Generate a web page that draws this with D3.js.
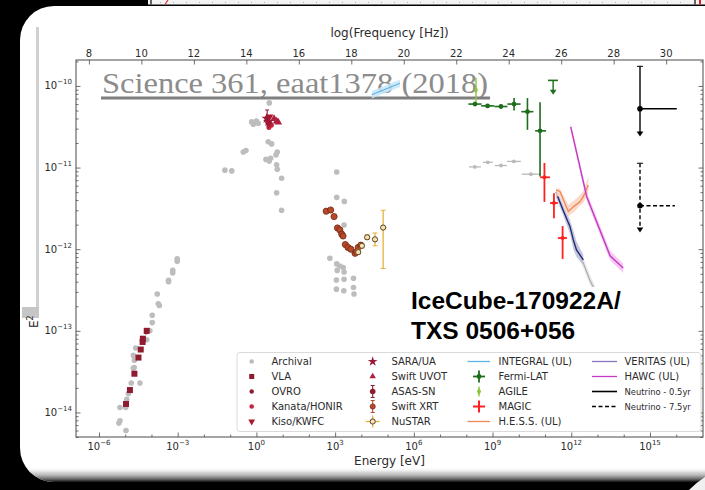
<!DOCTYPE html>
<html>
<head>
<meta charset="utf-8">
<script src="https://cdn.jsdelivr.net/npm/d3@7"></script>
<style>
  html, body { margin: 0; padding: 0; background: #000; }
  svg { display: block; }
</style>
</head>
<body>
<svg id="chart" width="705" height="490"></svg>
<script>
// Energy in eV, energy flux E^2 dN/dE in erg cm^-2 s^-1

const energyDomain = [1.33e-7, 1.05e17];
const fluxDomain = [5.0e-15, 2.08e-10];
const energyMajorExp = [-6, -3, 0, 3, 6, 9, 12, 15];
const fluxMajorExp = [-14, -13, -12, -11, -10];
const freqTicks = [8, 10, 12, 14, 16, 18, 20, 22, 24, 26, 28, 30];

// archival measurements: [E, flux]
const archival = [
  // radio / mm
  [9.55e-4, 7.6e-13], [9.55e-4, 7.1e-13], [6.46e-4, 5.5e-13], [6.46e-4, 5.13e-13],
  [4.47e-4, 4.17e-13], [4.47e-4, 3.98e-13], [1.66e-4, 2.82e-13], [1.82e-4, 2.14e-13],
  [2.0e-4, 2.04e-13], [1.07e-4, 1.55e-13], [1.07e-4, 1.26e-13], [8.7e-5, 1.0e-13],
  [6.6e-5, 7.76e-14], [2.5e-5, 6.17e-14], [2.04e-5, 5.0e-14], [2.24e-5, 4.37e-14],
  [2.19e-5, 3.55e-14], [2.04e-5, 3.47e-14], [3.63e-5, 2.29e-14], [1.7e-5, 2.29e-14],
  [1.32e-5, 1.7e-14], [1.15e-5, 1.45e-14], [1.05e-5, 1.15e-14], [6.3e-6, 1.15e-14],
  [6.3e-6, 7.9e-15], [5.75e-6, 7.4e-15], [1.07e-5, 6.0e-15],
  // infrared / optical / UV
  [3.09, 6.2e-11], [0.66, 3.63e-11], [0.76, 3.39e-11], [0.88, 3.57e-11], [1.0, 3.72e-11],
  [1.17, 3.49e-11], [2.82, 2.07e-11], [3.8, 1.95e-11], [0.316, 1.55e-11], [0.40, 1.62e-11],
  [6.24, 1.55e-11], [5.56, 1.43e-11], [2.31, 1.26e-11], [3.47, 1.30e-11], [3.09, 1.20e-11],
  [5.89, 1.08e-11], [6.24, 9.55e-12], [0.063, 9.3e-12], [0.115, 9.1e-12], [9.12, 7.4e-12],
  [5.89, 4.9e-12], [9.12, 3.0e-12],
  // X-ray
  [1150, 8.83e-12], [1150, 4.31e-12], [2240, 3.85e-12], [2190, 1.98e-12], [631, 7.73e-13],
  [1150, 6.6e-13], [1510, 6.22e-13], [2040, 5.97e-13], [1200, 5.5e-13], [2190, 5.25e-13],
  [1120, 4.2e-13], [2190, 4.28e-13], [5010, 4.4e-13], [1120, 3.24e-13], [2140, 3.09e-13],
  [5010, 3.39e-13], [5250, 2.82e-13]
];
// archival gamma-ray bins: [E, E low, E high, flux]
const archivalGamma = [
  [2.1e8, 1.26e8, 3.6e8, 1.02e-11], [6.6e8, 4.3e8, 1.02e9, 1.16e-11],
  [2.1e9, 1.23e9, 3.5e9, 1.06e-11], [6.5e9, 3.5e9, 1.2e10, 1.19e-11],
  [2.9e10, 1.3e10, 6.5e10, 8.3e-12]
];

const vla = [[6.6e-5, 1.0e-13], [4.7e-5, 8.0e-14], [4.6e-5, 7.3e-14], [3.9e-5, 5.9e-14],
  [3.2e-5, 4.7e-14], [2.24e-5, 2.98e-14], [1.51e-5, 1.88e-14], [1.07e-5, 1.27e-14]];
const ovro = [[6.3e-5, 9.6e-14]];
const kanata = [[3.3, 3.5e-11], [3.7, 3.3e-11], [3.0, 3.1e-11]];
const kiso = [[2.9, 3.4e-11], [3.2, 4.2e-11]];
const sara = [[2.82, 3.66e-11], [2.45, 4.0e-11]];
const uvot = [[5.9, 3.7e-11], [6.8, 3.6e-11], [4.7, 3.96e-11]];
// [E, flux, flux low, flux high]
const asassn = [[2.57, 4.05e-11, 3.16e-11, 5.08e-11]];
const xrt = [[457, 2.92e-12], [676, 3.02e-12], [912, 2.51e-12], [1230, 1.82e-12],
  [1510, 1.72e-12], [1780, 1.53e-12], [2000, 1.45e-12], [2450, 1.14e-12], [3090, 1.05e-12],
  [3980, 1.0e-12], [5750, 8.9e-13], [6610, 9.3e-13], [7590, 1.05e-12], [9550, 1.12e-12]];
// [E, E low, E high, flux, flux low, flux high]
const nustar = [
  [7590, 7000, 8200, 9.2e-13, 8.7e-13, 9.8e-13],
  [1.05e4, 9.5e3, 1.15e4, 1.1e-12, 1.04e-12, 1.17e-12],
  [1.66e4, 1.45e4, 1.9e4, 1.4e-12, 1.32e-12, 1.5e-12],
  [3.31e4, 2.8e4, 3.9e4, 1.32e-12, 1.1e-12, 1.58e-12],
  [6.76e4, 5.5e4, 9.1e4, 1.84e-12, 5.8e-13, 3.0e-12]
];
const fermi = [
  [2.14e8, 1.2e8, 3.8e8, 6.0e-11, 5.7e-11, 6.4e-11],
  [6.46e8, 3.7e8, 1.15e9, 5.7e-11, 5.4e-11, 6.0e-11],
  [2.09e9, 1.17e9, 3.7e9, 5.6e-11, 5.3e-11, 5.9e-11],
  [6.61e9, 3.7e9, 1.17e10, 6.0e-11, 5.0e-11, 7.1e-11],
  [2.14e10, 1.25e10, 3.6e10, 4.84e-11, 2.9e-11, 7.1e-11],
  [6.46e10, 4.2e10, 1.1e11, 2.82e-11, 7.8e-12, 6.3e-11]
];
// upper limit: [E, E low, E high, limit, arrow tip]
const fermiUL = [[2.04e11, 1.3e11, 3.1e11, 1.17e-10, 7.8e-11]];
// [E, flux, flux low, flux high]
const agile = [[2.34e8, 8.9e-11, 6.2e-11, 1.26e-10]];
const magic = [
  [9.5e10, 6.5e10, 1.55e11, 7.6e-12, 3.8e-12, 1.14e-11],
  [2.19e11, 1.55e11, 3.1e11, 3.68e-12, 2.39e-12, 4.84e-12],
  [4.68e11, 3.1e11, 6.9e11, 1.37e-12, 7.6e-13, 1.92e-12]
];
// upper-limit curves with bands: [E, flux, band low, band high]
const integral = [[2.5e4, 7.8e-11, 7.0e-11, 8.7e-11], [2.95e5, 1.08e-10, 9.7e-11, 1.2e-10]];
const hess = [
  [2.63e11, 5.3e-12, 4.5e-12, 5.6e-12], [3.72e11, 5.1e-12, 4.4e-12, 5.5e-12],
  [7.7e11, 2.9e-12, 2.55e-12, 3.5e-12], [1.2e12, 3.3e-12, 2.8e-12, 3.9e-12],
  [2.14e12, 3.8e-12, 3.4e-12, 4.6e-12], [2.88e12, 4.4e-12, 3.7e-12, 5.2e-12],
  [4.47e12, 6.1e-12, 4.8e-12, 7.7e-12]
];
const veritas = [
  [2.63e11, 5.0e-12, 4.3e-12, 5.6e-12], [4.9e11, 3.0e-12, 2.6e-12, 3.5e-12],
  [8.9e11, 1.9e-12, 1.55e-12, 2.3e-12], [1.2e12, 1.3e-12, 1.0e-12, 1.7e-12],
  [1.58e12, 9.8e-13, 8.0e-13, 1.25e-12], [2.88e12, 7.4e-13, 6.4e-13, 8.6e-13]
];
const vheArchival = [
  [1.1e12, 1.35e-12, 1.15e-12, 1.6e-12], [2.8e12, 6.9e-13, 6.0e-13, 8.0e-13],
  [5.1e12, 4.2e-13, 3.7e-13, 4.8e-13], [9.5e12, 2.8e-13, 2.45e-13, 3.2e-13],
  [1.5e13, 2.0e-13, 1.75e-13, 2.3e-13]
];
const hawc = [
  [9.55e11, 3.16e-11, 2.8e-11, 3.5e-11], [3.89e12, 4.4e-12, 3.9e-12, 5.0e-12],
  [3.02e13, 8.3e-13, 7.3e-13, 9.6e-13], [9.55e13, 5.9e-13, 5.1e-13, 6.7e-13]
];
// neutrino: [E, E high, flux, bar top, arrow tip]
const neutrinoHalfYear = [4.17e14, 1.05e16, 5.25e-11, 1.74e-10, 2.4e-11];
const neutrinoSevenYears = [4.17e14, 8.9e15, 3.4e-12, 1.13e-11, 1.6e-12];

const legendLabels = [
  ['Archival', 'VLA', 'OVRO', 'Kanata/HONIR', 'Kiso/KWFC'],
  ['SARA/UA', 'Swift UVOT', 'ASAS-SN', 'Swift XRT', 'NuSTAR'],
  ['INTEGRAL (UL)', 'Fermi-LAT', 'AGILE', 'MAGIC', 'H.E.S.S. (UL)'],
  ['VERITAS (UL)', 'HAWC (UL)', 'Neutrino - 0.5yr', 'Neutrino - 7.5yr']
];

// ---------------------------------------------------------------
const W = 705, H = 490;
const M = { left: 76, right: 703, top: 60, bottom: 437 };
const AX = '#4a4a4a', TXT = '#2b2b2b';
const SANS = 'DejaVu Sans, Verdana, sans-serif';
const LOG_HZ_PER_EV = 14.3836; // log10 of (1 eV / h) in Hz

const C = {
  archival: '#bdbdbd', vla: '#8e1b2f', kanata: '#c4223d', kiso: '#a8182f',
  sara: '#9c1838', uvot: '#b01e40', asassn: '#8e1b2f', xrt: '#b9482a', xrtEdge: '#6e2812',
  nustarFill: '#f4e2b8', nustarEdge: '#5c4020', nustarBar: '#e5b13c',
  integral: '#5db5e6', integralBand: '#c9e6f7', fermi: '#1c6d1c', agile: '#8cc63e',
  magic: '#ff2020', hess: '#f0875a', hessBand: '#fbd3c1', veritas: '#27287a',
  veritasLegend: '#8a72c4', veritasBand: '#bcc1d6', vheGray: '#a9a9a9', vheGrayBand: '#e2e2e2',
  hawc: '#c43ac4', hawcBand: '#f4c0f1', nu: '#000'
};

const svg = d3.select('#chart');
const defs = svg.append('defs');

const x = d3.scaleLog().domain(energyDomain).range([M.left, M.right]);
const y = d3.scaleLog().domain(fluxDomain).range([M.bottom, M.top]);
const xNu = d3.scaleLinear()
  .domain(energyDomain.map(e => Math.log10(e) + LOG_HZ_PER_EV))
  .range([M.left, M.right]);

// ---- backdrop: dark surround, slide edge above, white card ----
svg.append('rect').attr('width', W).attr('height', H).attr('fill', '#000');
svg.append('rect').attr('x', 148).attr('y', 0).attr('width', W - 148).attr('height', 4.5).attr('fill', '#f3f3f3');
svg.append('line').attr('x1', 160).attr('x2', 690).attr('y1', 2.5).attr('y2', 2.5)
  .attr('stroke', '#999').attr('stroke-width', 0.8).attr('stroke-dasharray', '1 12');
svg.append('line').attr('x1', 151).attr('x2', 151).attr('y1', 0).attr('y2', 4.5).attr('stroke', '#333').attr('stroke-width', 1.5);
svg.append('line').attr('x1', 165).attr('x2', 168).attr('y1', 4.5).attr('y2', 0).attr('stroke', '#d33').attr('stroke-width', 1.2);
svg.append('line').attr('x1', 695).attr('x2', 695).attr('y1', 0).attr('y2', 4.5).attr('stroke', '#333').attr('stroke-width', 1.5);
svg.append('line').attr('x1', 700).attr('x2', 700).attr('y1', 0).attr('y2', 4.5).attr('stroke', '#d22').attr('stroke-width', 2);

const cardPath = { x: 20, y: 6, w: W + 40, h: 476, r: 34 };
defs.append('clipPath').attr('id', 'card').append('rect')
  .attr('x', cardPath.x).attr('y', cardPath.y).attr('width', cardPath.w).attr('height', cardPath.h).attr('rx', cardPath.r);
svg.append('rect').attr('x', cardPath.x).attr('y', cardPath.y).attr('width', cardPath.w)
  .attr('height', cardPath.h).attr('rx', cardPath.r).attr('fill', '#fff');
const edge = defs.append('linearGradient').attr('id', 'edge').attr('x1', 0).attr('x2', 0).attr('y1', 0).attr('y2', 1);
[[0, '#ffffff', 0], [0.3, '#e2e2e2', 1], [0.55, '#b5b5b5', 1], [0.8, '#6a6a6a', 1], [1, '#111', 1]]
  .forEach(([o, c, a]) => edge.append('stop').attr('offset', o).attr('stop-color', c).attr('stop-opacity', a));
svg.append('rect').attr('x', 0).attr('y', 467).attr('width', W).attr('height', 15)
  .attr('fill', 'url(#edge)').attr('clip-path', 'url(#card)');
// corner of the next slide peeking in at the lower right
svg.append('path').attr('d', 'M705,477 Q697,482 689,490 L705,490 Z').attr('fill', '#f0f0f0');

// remnant of the vertical axis title
svg.append('rect').attr('x', 36).attr('y', 27).attr('width', 3).attr('height', 280).attr('fill', '#d0d0d0');
svg.append('rect').attr('x', 22).attr('y', 307).attr('width', 17).attr('height', 11).attr('fill', '#c6c6c6');
const eLab = svg.append('text').attr('transform', 'translate(37.5,328) rotate(-90)')
  .attr('font-family', SANS).attr('font-size', 12).attr('fill', '#222');
eLab.append('tspan').text('E');
eLab.append('tspan').attr('dy', -5).attr('font-size', 8).text('2');

// ---- axes ----
function powerLabel(sel, exp) {
  sel.append('tspan').text('10');
  sel.append('tspan').attr('dy', -5).attr('font-size', 7)
    .text(exp < 0 ? '\u2212' + Math.abs(exp) : String(exp));
}
function tickGroup(axisGen, tx, ty) {
  const g = svg.append('g').attr('transform', `translate(${tx},${ty})`).call(axisGen);
  g.select('.domain').remove();
  g.selectAll('.tick line').attr('stroke', AX).attr('stroke-width', 0.8);
  g.selectAll('.tick text').remove();
  return g;
}

const energyMajor = energyMajorExp.map(k => Math.pow(10, k));
const energyMinor = d3.range(-6, 17).filter(k => !energyMajorExp.includes(k)).map(k => Math.pow(10, k));
const fluxMajor = fluxMajorExp.map(k => Math.pow(10, k));
const fluxMinor = [];
for (let n = -15; n <= -10; n++) for (let k = 2; k <= 9; k++) {
  const v = k * Math.pow(10, n);
  if (v > fluxDomain[0] && v < fluxDomain[1]) fluxMinor.push(v);
}

tickGroup(d3.axisBottom(x).tickValues(energyMajor).tickSize(-4.5), 0, M.bottom);
tickGroup(d3.axisBottom(x).tickValues(energyMinor).tickSize(-2.5), 0, M.bottom);
tickGroup(d3.axisTop(xNu).tickValues(freqTicks).tickSize(-4.5), 0, M.top);
tickGroup(d3.axisLeft(y).tickValues(fluxMajor).tickSize(-4.5), M.left, 0);
tickGroup(d3.axisLeft(y).tickValues(fluxMinor).tickSize(-2.5), M.left, 0);
tickGroup(d3.axisRight(y).tickValues(fluxMajor).tickSize(-4.5), M.right, 0);
tickGroup(d3.axisRight(y).tickValues(fluxMinor).tickSize(-2.5), M.right, 0);

svg.append('rect').attr('x', M.left).attr('y', M.top).attr('width', M.right - M.left)
  .attr('height', M.bottom - M.top).attr('fill', 'none').attr('stroke', AX).attr('stroke-width', 1);

const labels = svg.append('g').attr('font-family', SANS).attr('font-size', 10).attr('fill', TXT);
energyMajorExp.forEach(k => {
  labels.append('text').attr('x', x(Math.pow(10, k))).attr('y', 449.5).attr('text-anchor', 'middle').call(powerLabel, k);
});
fluxMajorExp.forEach(k => {
  labels.append('text').attr('x', 72).attr('y', y(Math.pow(10, k)) + 3.5).attr('text-anchor', 'end').call(powerLabel, k);
});
freqTicks.forEach(v => {
  labels.append('text').attr('x', xNu(v)).attr('y', 56.5).attr('text-anchor', 'middle').text(v);
});
svg.append('text').attr('x', (M.left + M.right) / 2).attr('y', 465).attr('text-anchor', 'middle')
  .attr('font-family', SANS).attr('font-size', 12).attr('fill', TXT).text('Energy [eV]');
svg.append('text').attr('x', (M.left + M.right) / 2).attr('y', 37).attr('text-anchor', 'middle')
  .attr('font-family', SANS).attr('font-size', 12).attr('fill', TXT).text('log(Frequency [Hz])');

// ---- reference caption ----
svg.append('text').attr('x', 102).attr('y', 93).attr('font-family', 'Liberation Serif, DejaVu Serif, serif')
  .attr('font-size', 30).attr('fill', '#8c8c8c').attr('textLength', 386).attr('lengthAdjust', 'spacingAndGlyphs')
  .text('Science 361, eaat1378 (2018)');
svg.append('rect').attr('x', 101).attr('y', 96.5).attr('width', 389).attr('height', 3).attr('fill', '#7e7e7e');

// ---- data ----
defs.append('clipPath').attr('id', 'plot').append('rect')
  .attr('x', M.left).attr('y', M.top).attr('width', M.right - M.left).attr('height', M.bottom - M.top);
const plot = svg.append('g').attr('clip-path', 'url(#plot)');

const seg = (g, x1, y1, x2, y2, color, w, dash) => g.append('line')
  .attr('x1', x1).attr('y1', y1).attr('x2', x2).attr('y2', y2)
  .attr('stroke', color).attr('stroke-width', w).attr('stroke-dasharray', dash || null);
const dot = (g, cx, cy, r, fill, stroke, sw) => g.append('circle').attr('cx', cx).attr('cy', cy).attr('r', r)
  .attr('fill', fill).attr('stroke', stroke || 'none').attr('stroke-width', sw || 0);
const sym = (g, type, size, cx, cy, fill, rot) => g.append('path')
  .attr('d', d3.symbol().type(type).size(size)())
  .attr('transform', `translate(${cx},${cy}) rotate(${rot || 0})`).attr('fill', fill);
const arrowDown = (g, cx, tipY, color) => g.append('path')
  .attr('d', `M${cx - 3.3},${tipY - 5} L${cx + 3.3},${tipY - 5} L${cx},${tipY} Z`).attr('fill', color);

function bandCurve(g, rows, line, band, lw) {
  g.append('path').datum(rows).attr('fill', band).attr('opacity', 0.85)
    .attr('d', d3.area().x(d => x(d[0])).y0(d => y(d[2])).y1(d => y(d[3])));
  g.append('path').datum(rows).attr('fill', 'none').attr('stroke', line).attr('stroke-width', lw || 1.3)
    .attr('d', d3.line().x(d => x(d[0])).y(d => y(d[1])));
}

// archival
archivalGamma.forEach(d => {
  seg(plot, x(d[1]), y(d[3]), x(d[2]), y(d[3]), '#b9b9b9', 1.3);
  dot(plot, x(d[0]), y(d[3]), 1.9, '#b9b9b9');
});
archival.forEach(d => dot(plot, x(d[0]), y(d[1]), 2.8, C.archival));

// radio
vla.forEach(d => plot.append('rect').attr('x', x(d[0]) - 3).attr('y', y(d[1]) - 3)
  .attr('width', 6).attr('height', 6).attr('fill', C.vla));
ovro.forEach(d => dot(plot, x(d[0]), y(d[1]), 2.2, C.vla));

// optical / UV
asassn.forEach(d => {
  seg(plot, x(d[0]), y(d[2]), x(d[0]), y(d[3]), C.asassn, 1.1);
  seg(plot, x(d[0]) - 2, y(d[3]), x(d[0]) + 2, y(d[3]), C.asassn, 1);
  dot(plot, x(d[0]), y(d[1]), 2.6, C.asassn);
});
kanata.forEach(d => dot(plot, x(d[0]), y(d[1]), 2.5, C.kanata));
kiso.forEach(d => sym(plot, d3.symbolTriangle, 24, x(d[0]), y(d[1]), C.kiso, 180));
uvot.forEach(d => sym(plot, d3.symbolTriangle, 26, x(d[0]), y(d[1]), C.uvot));
sara.forEach(d => sym(plot, d3.symbolStar, 34, x(d[0]), y(d[1]), C.sara));

// INTEGRAL upper limit
bandCurve(plot, integral, C.integral, C.integralBand, 1.3);

// X-ray
xrt.forEach(d => dot(plot, x(d[0]), y(d[1]), 3.1, C.xrt, C.xrtEdge, 0.8));
nustar.forEach(d => {
  seg(plot, x(d[1]), y(d[3]), x(d[2]), y(d[3]), C.nustarBar, 1.3);
  seg(plot, x(d[0]), y(d[4]), x(d[0]), y(d[5]), C.nustarBar, 1.3);
  seg(plot, x(d[0]) - 2.5, y(d[4]), x(d[0]) + 2.5, y(d[4]), C.nustarBar, 1);
  seg(plot, x(d[0]) - 2.5, y(d[5]), x(d[0]) + 2.5, y(d[5]), C.nustarBar, 1);
  dot(plot, x(d[0]), y(d[3]), 2.6, C.nustarFill, C.nustarEdge, 1);
});

// very-high-energy upper limits
bandCurve(plot, vheArchival, C.vheGray, C.vheGrayBand, 1.1);
bandCurve(plot, veritas, C.veritas, C.veritasBand, 1.4);
bandCurve(plot, hess, C.hess, C.hessBand, 1.3);
bandCurve(plot, hawc, C.hawc, C.hawcBand, 1.4);

// AGILE
agile.forEach(d => {
  seg(plot, x(d[0]), y(d[2]), x(d[0]), y(d[3]), C.agile, 1.4);
  sym(plot, d3.symbolDiamond, 14, x(d[0]), y(d[1]), C.agile);
});

// Fermi-LAT
fermi.forEach(d => {
  seg(plot, x(d[1]), y(d[3]), x(d[2]), y(d[3]), C.fermi, 1.6);
  seg(plot, x(d[0]), y(d[4]), x(d[0]), y(d[5]), C.fermi, 1.6);
  dot(plot, x(d[0]), y(d[3]), 2.4, C.fermi);
});
fermiUL.forEach(d => {
  seg(plot, x(d[1]), y(d[3]), x(d[2]), y(d[3]), C.fermi, 1.6);
  seg(plot, x(d[0]), y(d[3]), x(d[0]), y(d[4]) - 3, C.fermi, 1.4);
  arrowDown(plot, x(d[0]), y(d[4]), C.fermi);
});

// MAGIC
magic.forEach(d => {
  seg(plot, x(d[1]), y(d[3]), x(d[2]), y(d[3]), C.magic, 1.8);
  seg(plot, x(d[0]), y(d[4]), x(d[0]), y(d[5]), C.magic, 1.8);
  dot(plot, x(d[0]), y(d[3]), 2, C.magic);
});

// IceCube neutrino flux limits
function neutrino(d, dash) {
  seg(plot, x(d[0]), y(d[2]), x(d[1]), y(d[2]), C.nu, 1.4, dash);
  seg(plot, x(d[0]), y(d[3]), x(d[0]), y(d[4]) - 3, C.nu, 1.4, dash);
  seg(plot, x(d[0]) - 3, y(d[3]), x(d[0]) + 3, y(d[3]), C.nu, 1);
  arrowDown(plot, x(d[0]), y(d[4]), C.nu);
  dot(plot, x(d[0]), y(d[2]), 2.8, C.nu);
}
neutrino(neutrinoHalfYear, null);
neutrino(neutrinoSevenYears, '4 2.5');

// ---- source label ----
svg.append('rect').attr('x', 406).attr('y', 287).attr('width', 222).attr('height', 59).attr('fill', '#fff');
const BOLD = 'Liberation Sans, Arial, Helvetica, sans-serif';
svg.append('text').attr('x', 411).attr('y', 309).attr('font-family', BOLD).attr('font-weight', 'bold')
  .attr('font-size', 24.5).attr('fill', '#000').text('IceCube-170922A/');
svg.append('text').attr('x', 411).attr('y', 339).attr('font-family', BOLD).attr('font-weight', 'bold')
  .attr('font-size', 24.5).attr('fill', '#000').text('TXS 0506+056');

// ---- legend ----
const lg = svg.append('g');
lg.append('rect').attr('x', 237).attr('y', 352.5).attr('width', 464).attr('height', 79).attr('rx', 3)
  .attr('fill', '#fff').attr('fill-opacity', 0.9).attr('stroke', '#d0d0d0').attr('stroke-width', 0.8);
const colX = [251.7, 372.7, 479, 604.5];
const lineSpan = [[467.5, 490], [592, 617]];
const labelX = [271.5, 391.5, 498.5, 624.5];
const rowY = i => 361.5 + 15 * i;

const legendMarker = {
  'Archival': (cx, cy) => dot(lg, cx, cy, 2.3, C.archival),
  'VLA': (cx, cy) => lg.append('rect').attr('x', cx - 2.5).attr('y', cy - 2.5).attr('width', 5).attr('height', 5).attr('fill', C.vla),
  'OVRO': (cx, cy) => dot(lg, cx, cy, 2.2, C.vla),
  'Kanata/HONIR': (cx, cy) => dot(lg, cx, cy, 2.3, C.kanata),
  'Kiso/KWFC': (cx, cy) => sym(lg, d3.symbolTriangle, 20, cx, cy, C.kiso, 180),
  'SARA/UA': (cx, cy) => sym(lg, d3.symbolStar, 30, cx, cy, C.sara),
  'Swift UVOT': (cx, cy) => sym(lg, d3.symbolTriangle, 18, cx, cy, C.uvot),
  'ASAS-SN': (cx, cy) => {
    seg(lg, cx, cy - 6, cx, cy + 6, C.asassn, 1.1);
    seg(lg, cx - 2, cy - 6, cx + 2, cy - 6, C.asassn, 1);
    seg(lg, cx - 2, cy + 6, cx + 2, cy + 6, C.asassn, 1);
    dot(lg, cx, cy, 2.8, C.asassn);
  },
  'Swift XRT': (cx, cy) => {
    seg(lg, cx, cy - 6, cx, cy + 6, C.xrt, 1.1);
    seg(lg, cx - 2, cy - 6, cx + 2, cy - 6, C.xrt, 1);
    seg(lg, cx - 2, cy + 6, cx + 2, cy + 6, C.xrt, 1);
    dot(lg, cx, cy, 2.6, C.xrt, C.xrtEdge, 0.7);
  },
  'NuSTAR': (cx, cy) => {
    seg(lg, cx - 7, cy, cx + 7, cy, C.nustarBar, 1.3);
    seg(lg, cx, cy - 6, cx, cy + 6, C.nustarBar, 1.3);
    dot(lg, cx, cy, 2.6, C.nustarFill, C.nustarEdge, 1);
  },
  'Fermi-LAT': (cx, cy) => {
    seg(lg, cx - 6, cy, cx + 6, cy, C.fermi, 1.8);
    seg(lg, cx, cy - 6, cx, cy + 6, C.fermi, 1.8);
    dot(lg, cx, cy, 2.4, C.fermi);
  },
  'AGILE': (cx, cy) => {
    seg(lg, cx, cy - 5, cx, cy + 5, C.agile, 1.3);
    sym(lg, d3.symbolDiamond, 16, cx, cy, C.agile);
  },
  'MAGIC': (cx, cy) => {
    seg(lg, cx - 6, cy, cx + 6, cy, C.magic, 2);
    seg(lg, cx, cy - 6, cx, cy + 6, C.magic, 2);
  }
};
const legendLine = {
  'INTEGRAL (UL)': [C.integral, null], 'H.E.S.S. (UL)': [C.hess, null],
  'VERITAS (UL)': [C.veritasLegend, null], 'HAWC (UL)': [C.hawc, null],
  'Neutrino - 0.5yr': [C.nu, null], 'Neutrino - 7.5yr': [C.nu, '4 2.5']
};

legendLabels.forEach((col, ci) => {
  col.forEach((label, ri) => {
    const cy = rowY(ri);
    if (legendLine[label]) {
      const span = lineSpan[ci - 2];
      const [color, dash] = legendLine[label];
      seg(lg, span[0], cy, span[1], cy, color, label.startsWith('Neutrino') ? 1.6 : 1.3, dash);
    } else {
      legendMarker[label](colX[ci], cy);
    }
    const small = label.startsWith('Neutrino');
    lg.append('text').attr('x', labelX[ci]).attr('y', cy + (small ? 3 : 3.5))
      .attr('font-family', SANS).attr('font-size', small ? 8.4 : 10).attr('fill', TXT).text(label);
  });
});
</script>
</body>
</html>
